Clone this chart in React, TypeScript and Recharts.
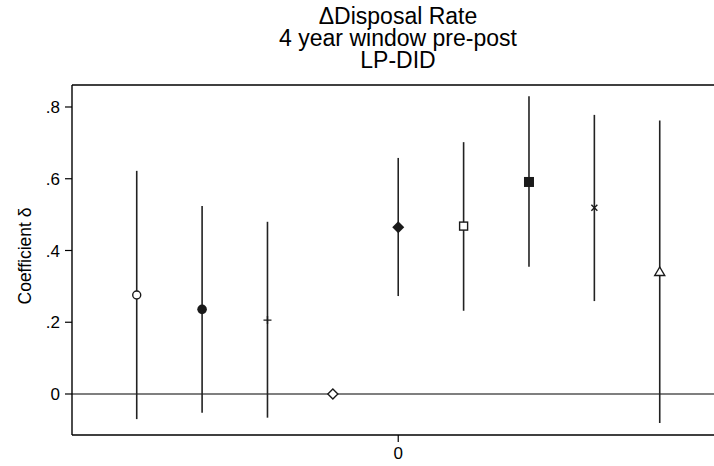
import { ScatterChart, Scatter, XAxis, YAxis, ErrorBar, ReferenceLine, Label } from "recharts";

// event time, point estimate and 95% CI
const eventTime = [-4, -3, -2, -1, 0, 1, 2, 3, 4];
const coef = [0.276, 0.236, 0.206, 0, 0.465, 0.468, 0.591, 0.519, 0.34];
const ciLow = [-0.07, -0.052, -0.066, 0, 0.273, 0.232, 0.355, 0.259, -0.081];
const ciHigh = [0.622, 0.524, 0.48, 0, 0.658, 0.702, 0.83, 0.778, 0.762];
const markers = [
  "circleHollow",
  "circle",
  "plus",
  "diamondHollow",
  "diamond",
  "squareHollow",
  "square",
  "cross",
  "triangleHollow",
];

const yTicks = [0, 0.2, 0.4, 0.6, 0.8];
const xTicks = [0];
const titleLines = ["ΔDisposal Rate", "4 year window pre-post", "LP-DID"];

const X_DOMAIN: [number, number] = [-4.99, 4.83];
const Y_DOMAIN: [number, number] = [-0.1143, 0.8613];

const FONT = '"Liberation Sans", Arial, Helvetica, sans-serif';
const INK = "#1a1a1a";

const rows = eventTime.map((t, i) => ({
  t,
  coef: coef[i],
  err: [coef[i] - ciLow[i], ciHigh[i] - coef[i]],
  marker: markers[i],
}));

const fmtTick = (v: number) => (v === 0 ? "0" : v.toFixed(1).replace(/^0/, ""));

function Marker(props: any) {
  const { cx, cy, payload } = props;
  if (cx == null || cy == null) return <g />;
  const sw = 1.4;
  switch (payload.marker) {
    case "circleHollow":
      return <circle cx={cx} cy={cy} r={4} fill="#fff" stroke={INK} strokeWidth={sw} />;
    case "circle":
      return <circle cx={cx} cy={cy} r={4.8} fill={INK} />;
    case "plus":
      return (
        <path d={`M${cx - 4},${cy}H${cx + 4}M${cx},${cy - 4}V${cy + 4}`} stroke={INK} strokeWidth={sw} />
      );
    case "diamondHollow":
      return (
        <path
          d={`M${cx},${cy - 5}L${cx + 5},${cy}L${cx},${cy + 5}L${cx - 5},${cy}Z`}
          fill="#fff"
          stroke={INK}
          strokeWidth={sw}
        />
      );
    case "diamond":
      return <path d={`M${cx},${cy - 6}L${cx + 6},${cy}L${cx},${cy + 6}L${cx - 6},${cy}Z`} fill={INK} />;
    case "squareHollow":
      return <rect x={cx - 4} y={cy - 4} width={8} height={8} fill="#fff" stroke={INK} strokeWidth={sw} />;
    case "square":
      return <rect x={cx - 5} y={cy - 5} width={10} height={10} fill={INK} />;
    case "cross":
      return (
        <path
          d={`M${cx - 3},${cy - 3}L${cx + 3},${cy + 3}M${cx + 3},${cy - 3}L${cx - 3},${cy + 3}`}
          stroke={INK}
          strokeWidth={sw}
        />
      );
    case "triangleHollow":
      return (
        <path
          d={`M${cx},${cy - 5}L${cx + 5},${cy + 3.5}L${cx - 5},${cy + 3.5}Z`}
          fill="#fff"
          stroke={INK}
          strokeWidth={sw}
        />
      );
    default:
      return <g />;
  }
}

export default function App() {
  return (
    <div style={{ position: "absolute", left: 0, top: 0, width: 714, height: 466, background: "#fff" }}>
      {titleLines.map((l, i) => (
        <div
          key={l}
          style={{
            position: "absolute",
            left: 198,
            top: 6 + i * 22,
            width: 400,
            height: 20,
            textAlign: "center",
            fontFamily: FONT,
            fontSize: 23,
            lineHeight: "20px",
            color: "#000",
            whiteSpace: "nowrap",
          }}
        >
          {l}
        </div>
      ))}
      <ScatterChart width={714} height={466} margin={{ top: 85, right: 0, bottom: 0, left: 0 }}>
        <XAxis
          type="number"
          dataKey="t"
          domain={X_DOMAIN}
          allowDataOverflow
          ticks={xTicks}
          height={31}
          tickSize={7}
          tickMargin={5}
          axisLine={{ stroke: "#000", strokeWidth: 1.4 }}
          tickLine={{ stroke: "#000", strokeWidth: 1.2 }}
          tick={{ fill: "#000", fontSize: 17, fontFamily: FONT }}
        />
        <YAxis
          type="number"
          dataKey="coef"
          domain={Y_DOMAIN}
          allowDataOverflow
          ticks={yTicks}
          tickFormatter={fmtTick}
          width={72}
          tickSize={7}
          tickMargin={5}
          axisLine={{ stroke: "#000", strokeWidth: 1.4 }}
          tickLine={{ stroke: "#000", strokeWidth: 1.2 }}
          tick={{ fill: "#000", fontSize: 17, fontFamily: FONT }}
        >
          <Label
            content={(p: any) => {
              const vb = p.viewBox || {};
              const x = (vb.x ?? 0) + 25;
              const y = (vb.y ?? 0) + (vb.height ?? 0) / 2 - 4;
              return (
                <text
                  x={x}
                  y={y}
                  transform={`rotate(-90, ${x}, ${y})`}
                  textAnchor="middle"
                  dominantBaseline="central"
                  fontSize={17.5}
                  fontFamily={FONT}
                  fill="#000"
                >
                  Coefficient δ
                </text>
              );
            }}
          />
        </YAxis>
        <ReferenceLine y={Y_DOMAIN[1]} stroke="#000" strokeWidth={1.4} ifOverflow="visible" />
        <ReferenceLine y={0} stroke="#555" strokeWidth={1.5} />
        <Scatter data={rows} isAnimationActive={false} shape={() => <g />}>
          <ErrorBar dataKey="err" direction="y" width={0} stroke="#222" strokeWidth={1.6} />
        </Scatter>
        <Scatter data={rows} isAnimationActive={false} shape={Marker} />
      </ScatterChart>
    </div>
  );
}
